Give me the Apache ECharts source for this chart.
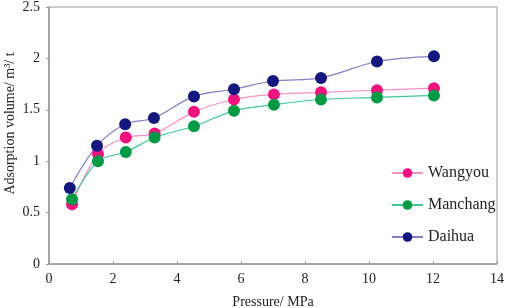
<!DOCTYPE html>
<html><head><meta charset="utf-8">
<script src="https://cdn.jsdelivr.net/npm/echarts@6/dist/echarts.min.js"></script>
<style>html,body{margin:0;padding:0;background:#fff}#c{width:505px;height:308px}</style>
</head><body><div id="c"></div>
<script>
const pressureDaihua = [0.65, 1.5, 2.38, 3.28, 4.53, 5.78, 7.0, 8.5, 10.25, 12.03];
const pressureOther = [0.72, 1.53, 2.4, 3.3, 4.53, 5.78, 7.03, 8.5, 10.25, 12.03];
const wangyou = [0.58, 1.07, 1.23, 1.27, 1.48, 1.60, 1.65, 1.67, 1.69, 1.71];
const manchang = [0.63, 1.00, 1.09, 1.23, 1.34, 1.49, 1.55, 1.60, 1.62, 1.64];
const daihua = [0.74, 1.15, 1.36, 1.42, 1.63, 1.70, 1.78, 1.81, 1.97, 2.02];
const seriesNames = ['Wangyou', 'Manchang', 'Daihua'];

const font = 'Liberation Serif';
const pair = (xs, ys) => xs.map((x, i) => [x, ys[i]]);
function mk(name, data, mColor, lColor) {
  return {
    name, type: 'line', data, smooth: 0.35,
    symbol: 'circle', symbolSize: 12,
    itemStyle: { color: mColor },
    lineStyle: { color: lColor, width: 1.2 },
    z: 3
  };
}
const chart = echarts.init(document.getElementById('c'));
chart.setOption({
  animation: false,
  grid: { left: 49, right: 8, top: 7, bottom: 44, show: true, borderColor: '#9a9a9a', borderWidth: 1,
          containLabel: false, outerBoundsMode: 'none' },
  xAxis: {
    type: 'value', min: 0, max: 14, interval: 2,
    name: 'Pressure/ MPa', nameLocation: 'middle', nameGap: 31, nameMoveOverlap: false,
    nameTextStyle: { fontFamily: font, fontSize: 14, color: '#222' },
    axisLine: { lineStyle: { color: '#9a9a9a', width: 1.5 } },
    axisTick: { inside: true, length: 3, lineStyle: { color: '#9a9a9a' } },
    axisLabel: { fontFamily: font, fontSize: 14, color: '#222', margin: 8 },
    splitLine: { show: false }
  },
  yAxis: {
    type: 'value', min: 0, max: 2.5, interval: 0.5,
    name: 'Adsorption volume/ m³/ t', nameLocation: 'middle', nameGap: 32, nameMoveOverlap: false,
    nameTextStyle: { fontFamily: font, fontSize: 14, color: '#222', padding: [0, 0, 0, 24] },
    axisLine: { show: true, lineStyle: { color: '#9a9a9a', width: 1.5 } },
    axisTick: { show: true, length: 3, lineStyle: { color: '#9a9a9a' } },
    axisLabel: { fontFamily: font, fontSize: 14, color: '#222', margin: 9 },
    splitLine: { show: false }
  },
  legend: {
    orient: 'vertical', left: 386, top: 160, itemGap: 16,
    itemWidth: 31, itemHeight: 12,
    textStyle: { fontFamily: font, fontSize: 16, color: '#222' },
    data: seriesNames
  },
  series: [
    mk('Wangyou', pair(pressureOther, wangyou), '#f0127e', '#ff8ec4'),
    mk('Manchang', pair(pressureOther, manchang), '#009944', '#3cc99a'),
    mk('Daihua', pair(pressureDaihua, daihua), '#14187e', '#7f7fc4')
  ]
});
</script></body></html>
